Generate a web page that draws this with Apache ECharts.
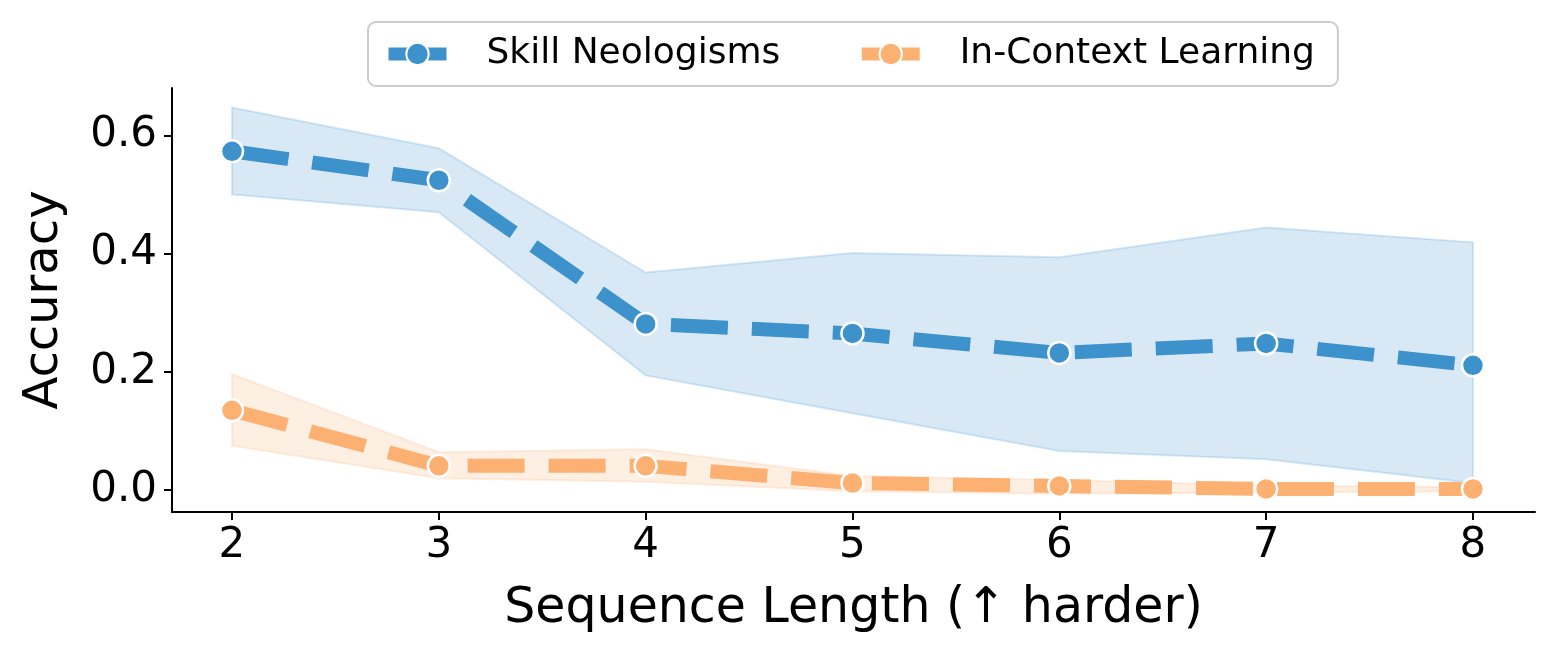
<!DOCTYPE html>
<html>
<head>
<meta charset="utf-8">
<title>Accuracy vs sequence length</title>
<script src="https://cdn.jsdelivr.net/npm/echarts@6/dist/echarts.min.js"></script>
<style>
  html, body { margin: 0; padding: 0; background: #fff; }
  #chart { width: 1557px; height: 657px; }
</style>
</head>
<body>
<div id="chart"></div>
<script>
// x positions (sequence length)
const seqLen = [2, 3, 4, 5, 6, 7, 8];
const xTicks = [2, 3, 4, 5, 6, 7, 8];
const yTicks = [0, 0.2, 0.4, 0.6];

// Skill Neologisms: mean + confidence band
const skillMean = [0.573, 0.524, 0.281, 0.265, 0.232, 0.248, 0.211];
const skillHi = [0.647, 0.578, 0.368, 0.401, 0.394, 0.444, 0.419];
const skillLo = [0.500, 0.470, 0.194, 0.130, 0.066, 0.052, 0.012];

// In-Context Learning: mean + confidence band
const iclMean = [0.135, 0.041, 0.041, 0.012, 0.007, 0.002, 0.002];
const iclHi = [0.196, 0.064, 0.069, 0.024, 0.017, 0.008, 0.005];
const iclLo = [0.075, 0.020, 0.014, -0.002, -0.006, -0.004, -0.002];

const BLUE = "#3e92cc";
const ORANGE = "#fcb072";
const FONT = "DejaVu Sans";

// shaded band between lo and hi, drawn as one polygon through the axes
function band(name, lo, hi, rgb) {
  return {
    type: "custom",
    name: name,
    silent: true,
    data: [[seqLen[0], lo[0]]],
    renderItem: function (params, api) {
      const pts = [];
      for (let i = 0; i < seqLen.length; i++) pts.push(api.coord([seqLen[i], hi[i]]));
      for (let j = seqLen.length - 1; j >= 0; j--) pts.push(api.coord([seqLen[j], lo[j]]));
      return {
        type: "polygon",
        shape: { points: pts },
        style: {
          fill: "rgba(" + rgb + ",0.2)",
          stroke: "rgba(" + rgb + ",0.2)",
          lineWidth: 2,
        },
      };
    },
  };
}

function line(name, values, color) {
  return {
    type: "line",
    name: name,
    data: seqLen.map((x, i) => [x, values[i]]),
    symbol: "circle",
    symbolSize: 22,
    itemStyle: { color: color, borderColor: "#fff", borderWidth: 2.5 },
    lineStyle: { color: color, width: 14, type: [57, 24], cap: "butt" },
    emphasis: { disabled: true },
  };
}

const chart = echarts.init(document.getElementById("chart"), null, { renderer: "canvas" });

chart.setOption({
  animation: false,
  textStyle: { fontFamily: FONT },
  grid: { left: 172, right: 22, top: 88, bottom: 145 },
  legend: {
    data: ["Skill Neologisms", "In-Context Learning"],
    left: 368,
    top: 22,
    orient: "horizontal",
    itemWidth: 58,
    itemHeight: 28,
    itemGap: 75,
    padding: [14, 23, 14, 14],
    borderColor: "#cccccc",
    borderWidth: 2,
    borderRadius: 8,
    lineStyle: { width: 13, type: "solid" },
    textStyle: { fontFamily: FONT, fontSize: 36, color: "#000", padding: [0, 0, 0, 35] },
  },
  xAxis: {
    type: "value",
    min: 1.71,
    max: 8.3,
    name: "Sequence Length (↑ harder)",
    nameLocation: "middle",
    nameGap: 73,
    nameTextStyle: { fontFamily: FONT, fontSize: 49, color: "#000" },
    axisLine: { show: true, onZero: false, lineStyle: { color: "#000", width: 2 } },
    axisTick: { show: true, length: 8, lineStyle: { color: "#000", width: 2 }, customValues: xTicks },
    axisLabel: { fontFamily: FONT, fontSize: 42, color: "#000", margin: 13, customValues: xTicks },
    splitLine: { show: false },
  },
  yAxis: {
    type: "value",
    min: -0.037,
    max: 0.68,
    name: "Accuracy",
    nameLocation: "middle",
    nameGap: 103,
    nameTextStyle: { fontFamily: FONT, fontSize: 48, color: "#000" },
    axisLine: { show: true, onZero: false, lineStyle: { color: "#000", width: 2 } },
    axisTick: { show: true, length: 8, lineStyle: { color: "#000", width: 2 }, customValues: yTicks },
    axisLabel: {
      fontFamily: FONT, fontSize: 42, color: "#000", margin: 15,
      customValues: yTicks,
      formatter: (v) => v.toFixed(1),
    },
    splitLine: { show: false },
  },
  series: [
    band("Skill Neologisms band", skillLo, skillHi, "62,146,204"),
    line("Skill Neologisms", skillMean, BLUE),
    band("In-Context Learning band", iclLo, iclHi, "252,176,114"),
    line("In-Context Learning", iclMean, ORANGE),
  ],
});
</script>
</body>
</html>
